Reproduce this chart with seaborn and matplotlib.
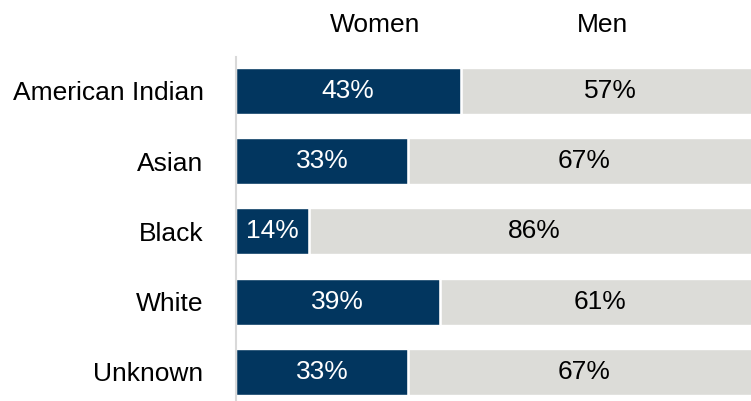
import pandas as pd
import seaborn as sns
import matplotlib.pyplot as plt

# share of women / men by race group (percent)
groups = ['American Indian', 'Asian', 'Black', 'White', 'Unknown']
women = [43, 33, 14, 39, 33]
men = [57, 67, 86, 61, 67]

navy = '#02365f'
grey = '#dcdcd8'

df = pd.DataFrame({'group': groups, 'women': women, 'men': men})
df['total'] = df['women'] + df['men']

sns.set_theme(style='white')
plt.rcParams['font.family'] = ['Liberation Sans', 'DejaVu Sans']

fig = plt.figure(figsize=(7.51, 4.01), dpi=100)
ax = fig.add_axes([235.5 / 751, 0, 1 - 235.5 / 751, 1 - 57 / 401])

sns.barplot(data=df, y='group', x='total', color=grey, width=0.655,
            saturation=1, ax=ax)
sns.barplot(data=df, y='group', x='women', color=navy, width=0.655,
            saturation=1, ax=ax)

# white separator between the two segments
for p in ax.containers[1]:
    x1 = p.get_x() + p.get_width()
    ax.vlines(x1, p.get_y(), p.get_y() + p.get_height(), color='white', lw=1.8, zorder=3)

ax.bar_label(ax.containers[1], labels=[f'{v}%' for v in women],
             label_type='center', color='white', fontsize=19)
for i, (w, m) in enumerate(zip(women, men)):
    ax.text(w + m / 2, i, f'{m}%', ha='center', va='center', fontsize=19, color='black')

ax.set_xlim(0, 98.4)
ax.set_ylim(4.413, -0.484)
ax.set_xlabel('')
ax.set_ylabel('')
ax.set_xticks([])
ax.tick_params(axis='y', length=0, pad=23, labelsize=19, labelcolor='black')

for s in ['top', 'right', 'bottom']:
    ax.spines[s].set_visible(False)
ax.spines['left'].set_color('#d9d9d9')
ax.spines['left'].set_linewidth(1.5)
ax.spines['left'].set_zorder(4)

# column headers
ax.text(26.7, 1.073, 'Women', transform=ax.get_xaxis_transform(), ha='center',
        va='baseline', fontsize=19, color='black')
ax.text(70.0, 1.073, 'Men', transform=ax.get_xaxis_transform(), ha='center',
        va='baseline', fontsize=19, color='black')

fig.savefig('out.png', dpi=100)
